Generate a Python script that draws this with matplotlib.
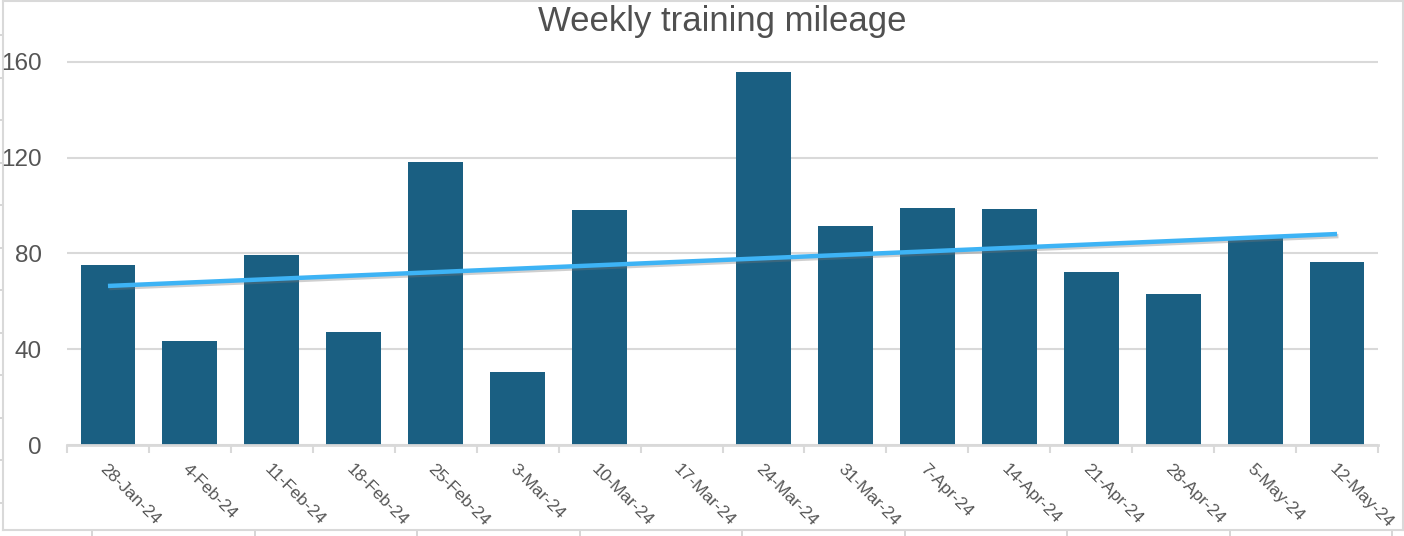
import numpy as np
import matplotlib
matplotlib.use("Agg")
import matplotlib.pyplot as plt
import matplotlib.patheffects as pe

# weekly mileage
weeks = ["28-Jan-24", "4-Feb-24", "11-Feb-24", "18-Feb-24", "25-Feb-24", "3-Mar-24",
         "10-Mar-24", "17-Mar-24", "24-Mar-24", "31-Mar-24", "7-Apr-24", "14-Apr-24",
         "21-Apr-24", "28-Apr-24", "5-May-24", "12-May-24"]
mileage = [75.0, 43.5, 79.5, 47.0, 118.0, 30.5, 98.3, 0.0, 156.0, 91.6, 99.2, 98.7,
           72.4, 63.2, 87.0, 76.6]
y_ticks = [0, 40, 80, 120, 160]

plt.rcParams['font.family'] = ['Liberation Sans', 'DejaVu Sans']

W, H = 1404, 536
fig = plt.figure(figsize=(W / 100, H / 100), dpi=100)

# outer frame with its stray tick marks
frame = fig.add_axes([3 / W, 6 / H, 1400 / W, 529 / H])
frame.set_xlim(0, 1400)
frame.set_ylim(0, 529)
frame.set_xticks(np.arange(89, 1400, 162.5))
frame.set_yticks(np.arange(529 - 34, 0, -42.5))
frame.tick_params(axis='x', direction='out', length=6, width=1.2, color='#cfcfcf',
                  labelbottom=False)
frame.tick_params(axis='y', direction='out', length=3, width=1.2, color='#cfcfcf',
                  labelleft=False)
for s in frame.spines.values():
    s.set_color('#d9d9d9')
    s.set_linewidth(1.5)
frame.set_facecolor('white')

# main plot area
ax = fig.add_axes([67 / W, 91 / H, (1378 - 67) / W, 407 / H])
ax.set_facecolor('none')
x = np.arange(len(weeks))
ax.bar(x, mileage, width=0.67, color='#1a5f82', zorder=2)

# linear trendline
k, b = np.polyfit(x, mileage, 1)
ax.plot(x, k * x + b, color='#3db3f5', lw=3.2, solid_capstyle='butt', zorder=3,
        path_effects=[pe.SimpleLineShadow(offset=(1, -1.5), shadow_color='#777777', alpha=0.35),
                      pe.Normal()])

ax.set_xlim(-0.5, len(weeks) - 0.5)
ax.set_ylim(0, 170)
ax.set_yticks(y_ticks)
ax.set_yticklabels([str(v) for v in y_ticks], fontsize=17.5, color='#555555')
ax.tick_params(axis='y', length=0, pad=18)
ax.grid(axis='y', color='#d9d9d9', lw=1.5, zorder=0)

ax.set_xticks(x)
ax.set_xticklabels(weeks, rotation=-45, ha='left', va='top', rotation_mode='anchor',
                   fontsize=12.5, color='#555555')
ax.set_xticks(np.arange(-0.5, len(weeks)), minor=True)
ax.tick_params(axis='x', which='major', length=0, pad=12)
ax.tick_params(axis='x', which='minor', length=6, width=1.5, color='#d9d9d9', direction='out')
for side in ['top', 'right', 'left']:
    ax.spines[side].set_visible(False)
ax.spines['bottom'].set_color('#d9d9d9')
ax.spines['bottom'].set_linewidth(2)

fig.text(722 / W, 1 - 22 / H, 'Weekly training mileage', fontsize=25, color='#505050',
         ha='center', va='center')

fig.savefig('out.png', dpi=100)
